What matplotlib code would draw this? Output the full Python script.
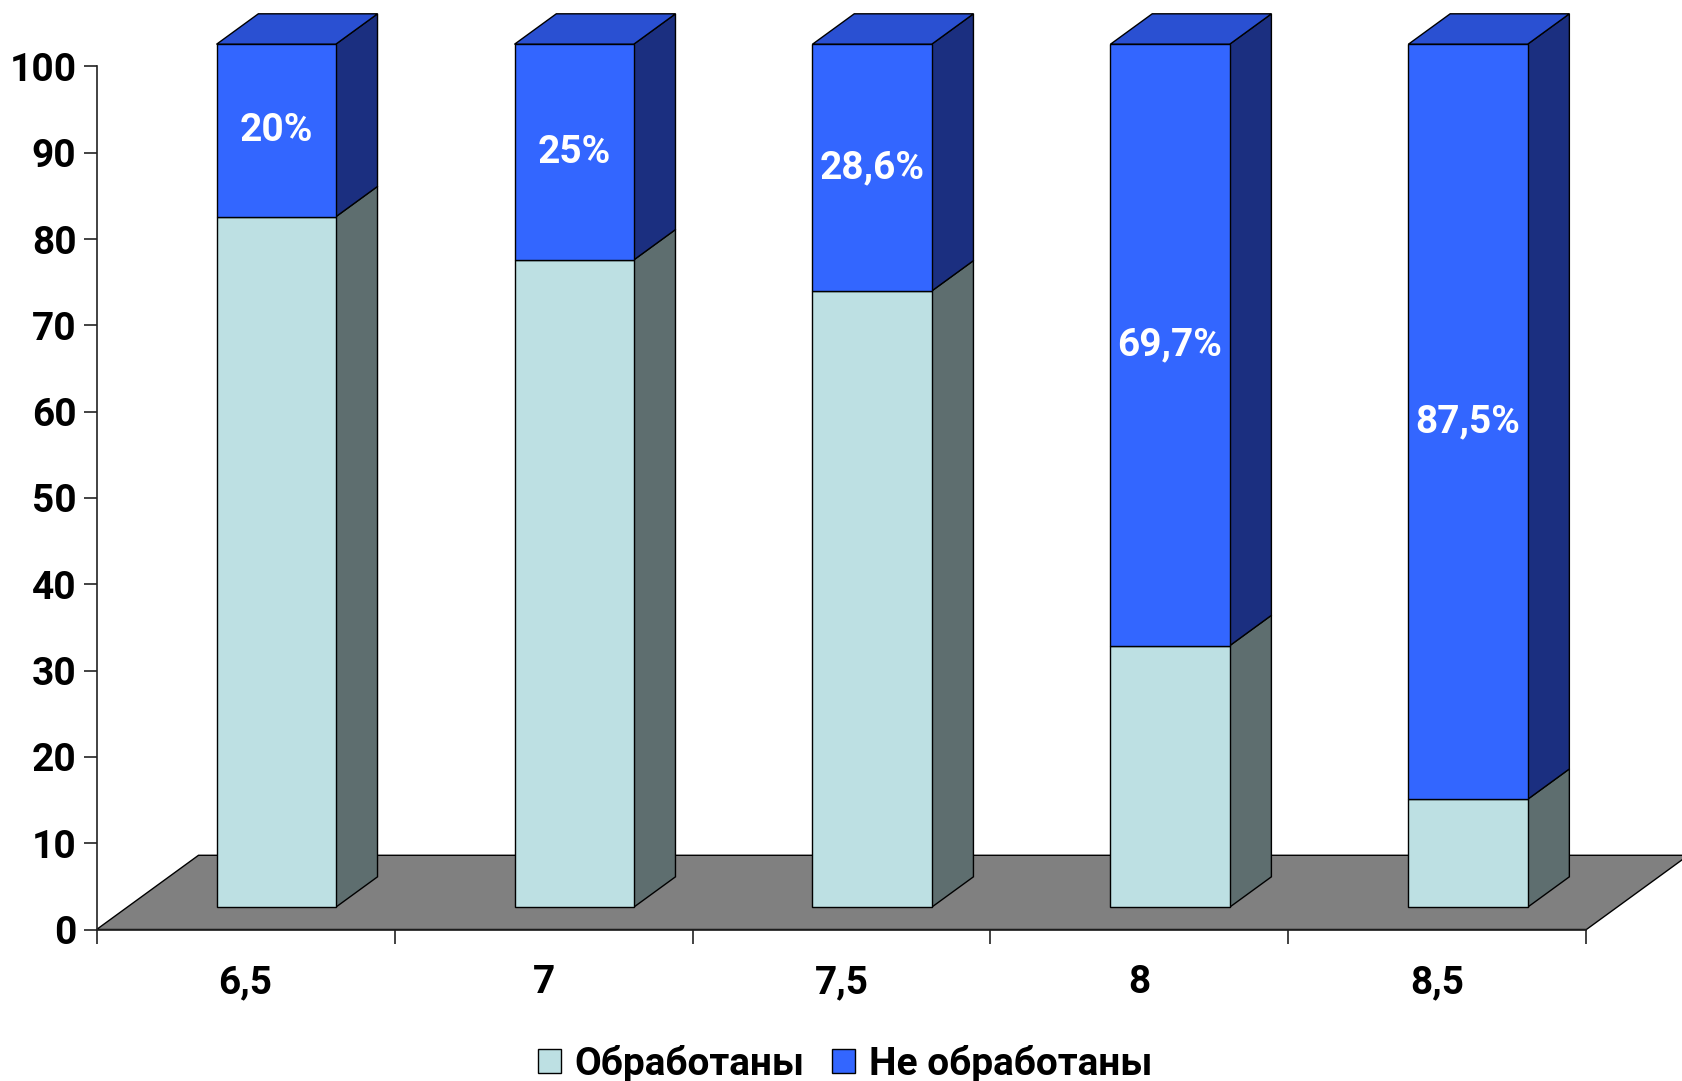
import matplotlib
matplotlib.use("Agg")
import matplotlib.pyplot as plt
from matplotlib.patches import Polygon, Patch

# Chart data
categories = ["6,5", "7", "7,5", "8", "8,5"]
processed = [80, 75, 71.4, 30.3, 12.5]        # Обработаны
unprocessed = [20, 25, 28.6, 69.7, 87.5]      # Не обработаны
value_labels = ["20%", "25%", "28,6%", "69,7%", "87,5%"]
series_names = ["Обработаны", "Не обработаны"]
yticks = list(range(0, 101, 10))

plt.rcParams['font.family'] = ['Roboto', 'DejaVu Sans']

# Colours of the pseudo-3D faces
LIGHT_FRONT, LIGHT_SIDE = "#BDE0E3", "#5E6E6F"
BLUE_FRONT, BLUE_SIDE, BLUE_TOP = "#3366FF", "#1B2F80", "#2A50D2"
FLOOR = "#808080"
EDGE_LW = 1.0
FS = 28

W, H, DPI = 1683, 1081, 100
fig = plt.figure(figsize=(W / DPI, H / DPI), dpi=DPI)
ax = fig.add_axes([0, 0, 1, 1])

# Axes limits chosen so the plot frame sits where the floor and value axis go
x_px0, x_scale = 96.6, 297.96
y_px0, y_scale = 151.5, 8.63
ax.set_xlim(-x_px0 / x_scale, (W - x_px0) / x_scale)
ax.set_ylim(-y_px0 / y_scale, (H - y_px0) / y_scale)

# Oblique depth of the floor (in data units) and the slab occupied by the bars
DX, DY = 0.342, 8.6
BAR_D0, BAR_D1 = 0.30, 0.71
BAR_W = 0.4
n = len(categories)

# Floor
floor = Polygon([(0, 0), (n, 0), (n + DX, DY), (DX, DY)], closed=True,
                facecolor=FLOOR, edgecolor="black", lw=EDGE_LW, zorder=1)
ax.add_patch(floor)


def draw_segment(x0, x1, y0, y1, front, side, top=None):
    fx, fy = BAR_D0 * DX, BAR_D0 * DY
    bx, by = BAR_D1 * DX, BAR_D1 * DY
    # right side face
    ax.add_patch(Polygon([(x1 + fx, y0 + fy), (x1 + bx, y0 + by),
                          (x1 + bx, y1 + by), (x1 + fx, y1 + fy)],
                         closed=True, facecolor=side, edgecolor="black",
                         lw=EDGE_LW, zorder=3))
    if top is not None:
        ax.add_patch(Polygon([(x0 + fx, y1 + fy), (x1 + fx, y1 + fy),
                              (x1 + bx, y1 + by), (x0 + bx, y1 + by)],
                             closed=True, facecolor=top, edgecolor="black",
                             lw=EDGE_LW, zorder=3))
    # front face
    ax.add_patch(Polygon([(x0 + fx, y0 + fy), (x1 + fx, y0 + fy),
                          (x1 + fx, y1 + fy), (x0 + fx, y1 + fy)],
                         closed=True, facecolor=front, edgecolor="black",
                         lw=EDGE_LW, zorder=4))


for i in range(n):
    x0 = i + 0.5 - BAR_W / 2
    x1 = i + 0.5 + BAR_W / 2
    p, u = processed[i], unprocessed[i]
    draw_segment(x0, x1, 0, p, LIGHT_FRONT, LIGHT_SIDE)
    draw_segment(x0, x1, p, p + u, BLUE_FRONT, BLUE_SIDE, BLUE_TOP)
    ax.text(i + 0.5 + BAR_D0 * DX, p + u / 2 + BAR_D0 * DY, value_labels[i],
            ha="center", va="center", color="white", fontsize=FS,
            fontweight="bold", zorder=5)

# Axes lines and ticks
for s in ("top", "right"):
    ax.spines[s].set_visible(False)
ax.spines["left"].set_position(("data", 0))
ax.spines["bottom"].set_position(("data", 0))
ax.spines["left"].set_bounds(0, 100)
ax.spines["bottom"].set_bounds(0, n)
for s in ("left", "bottom"):
    ax.spines[s].set_linewidth(1.2)
    ax.spines[s].set_color("#222222")

ax.set_yticks(yticks)
ax.set_yticklabels([str(t) for t in yticks])
ax.tick_params(axis="y", direction="out", length=9.5, width=1.2,
               color="#222222", pad=5, labelsize=FS)
for lab in ax.get_yticklabels():
    lab.set_fontweight("bold")

ax.set_xticks(range(n + 1))
ax.set_xticklabels([])
ax.set_xticks([i + 0.5 for i in range(n)], minor=True)
ax.set_xticklabels(categories, minor=True)
ax.tick_params(axis="x", which="major", direction="out", length=10,
               width=1.2, color="#222222")
ax.tick_params(axis="x", which="minor", length=0, pad=25, labelsize=FS)
for lab in ax.get_xticklabels(minor=True):
    lab.set_fontweight("bold")

# Legend
handles = [Patch(facecolor=LIGHT_FRONT, edgecolor="black", lw=1.0),
           Patch(facecolor=BLUE_FRONT, edgecolor="black", lw=1.0)]
fig.legend(handles, series_names, loc="center", bbox_to_anchor=(0.502, 0.016),
           ncol=2, frameon=False,
           prop={"weight": "bold", "size": FS},
           handlelength=0.6, handleheight=0.6, handletextpad=0.35,
           columnspacing=0.7)

fig.savefig("out.png", dpi=DPI)
